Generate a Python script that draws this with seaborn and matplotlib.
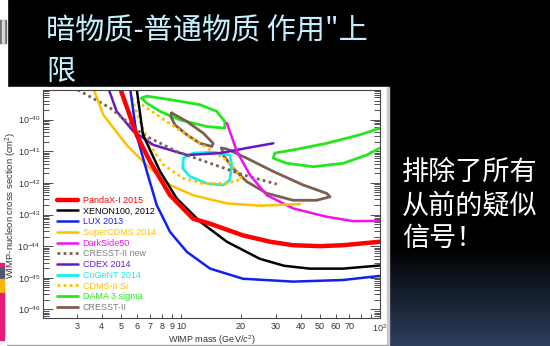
import numpy as np
import matplotlib
matplotlib.use("Agg")
import matplotlib.pyplot as plt
import seaborn as sns
from matplotlib.patches import Rectangle
from matplotlib.ticker import FixedLocator, FixedFormatter, LogLocator, NullFormatter

sns.set_theme(style="ticks")
plt.rcParams["font.family"] = ["Liberation Sans", "DejaVu Sans"]
plt.rcParams["mathtext.fontset"] = "custom"
plt.rcParams["mathtext.rm"] = "Liberation Sans"
plt.rcParams["mathtext.it"] = "Liberation Sans:italic"

# ---------------- data (WIMP mass in GeV/c^2, log10 of cross section in cm^2) ----------------
pandax_m = [4.94, 5.98, 6.98, 8.81, 11.5, 14.0, 20.5, 28.0, 36.5, 50.0, 65.2, 100]
pandax_lg = [-39.0, -40.48, -41.32, -42.39, -43.13, -43.29, -43.66, -43.86, -43.97, -44.0, -43.97, -43.86]

xenon_m = [5.98, 6.44, 7.84, 9.51, 12.45, 17.0, 24.9, 33.0, 44.4, 65.2, 100]
xenon_lg = [-39.0, -40.48, -41.63, -42.49, -43.22, -43.86, -44.40, -44.62, -44.71, -44.71, -44.61]

lux_m = [5.55, 5.98, 6.73, 7.55, 8.81, 10.7, 14.0, 20.5, 36.5, 65.2, 100]
lux_lg = [-39.0, -40.48, -41.63, -42.70, -43.55, -44.18, -44.71, -45.03, -45.12, -45.07, -44.94]

scdms_m = [3.62, 4.07, 5.33, 6.98, 8.81, 11.5, 17.0, 24.9, 39.6]
scdms_lg = [-39.0, -39.85, -40.80, -41.54, -42.07, -42.39, -42.65, -42.72, -42.67]

ds50_m = [17.0, 19.1, 22.2, 27.0, 36.7, 53.9, 73.4, 100]
ds50_lg = [-40.11, -41.01, -41.75, -42.39, -42.81, -43.07, -43.21, -43.20]

cresst_new_m = [3.03, 4.40, 6.47, 9.51, 14.0, 20.6, 30.3]
cresst_new_lg = [-39.06, -39.63, -40.48, -41.01, -41.38, -41.75, -42.04]

cdex_m = [4.31, 4.75, 5.76, 7.26, 10.7, 15.7, 21.4, 29.1]
cdex_lg = [-39.0, -39.74, -40.37, -40.80, -41.12, -41.06, -40.90, -40.75]

cogent_m = [10.27, 11.53, 14.53, 17.6, 17.98, 17.6, 16.3, 13.5, 11.1, 10.2, 10.27]
cogent_lg = [-41.22, -41.06, -41.03, -41.12, -41.43, -41.91, -42.07, -42.02, -41.80, -41.54, -41.22]

cdms_si_m = [5.65, 6.73, 8.47, 10.7, 13.5, 17.0, 19.1, 20.2, 17.0, 12.9, 10.3, 8.15, 6.98, 6.22, 5.65]
cdms_si_lg = [-39.32, -39.63, -40.06, -40.48, -40.90, -41.28, -41.64, -41.88, -42.02, -42.02,
              -41.86, -41.43, -40.80, -40.06, -39.32]

dama_low_m = [6.35, 6.73, 8.81, 12.45, 15.1, 16.6, 16.6, 13.5, 9.89, 7.84, 6.73, 6.35]
dama_low_lg = [-39.32, -39.26, -39.37, -39.53, -39.74, -40.06, -40.27, -40.22, -40.01, -39.74, -39.48, -39.32]

dama_high_m = [100, 79.3, 53.9, 36.6, 29.6, 29.1, 34.0, 46.2, 65.5, 85.7, 100]
dama_high_lg = [-40.27, -40.48, -40.75, -40.96, -41.06, -41.22, -41.38, -41.49, -41.38, -41.12, -40.90]

cresst_a_m = [8.98, 9.33, 10.7, 12.95, 14.5, 14.3, 12.45, 10.7, 9.33, 8.88, 8.98]
cresst_a_lg = [-39.79, -39.85, -40.06, -40.43, -40.75, -40.85, -40.75, -40.48, -40.17, -39.90, -39.79]

cresst_b_m = [16.0, 17.0, 21.4, 29.1, 41.2, 53.9, 56.1, 48.1, 36.6, 27.0, 21.4, 18.3, 16.3, 16.0]
cresst_b_lg = [-40.90, -40.93, -41.22, -41.64, -42.07, -42.33, -42.44, -42.55, -42.55, -42.33,
               -41.96, -41.54, -41.12, -40.90]

x_ticks = [3, 4, 5, 6, 7, 8, 9, 10, 20, 30, 40, 50, 60, 70, 80, 90, 100]
x_tick_labels = ["3", "4", "5", "6", "7", "8", "9", "10", "20", "30", "40", "50", "60", "70",
                 "", "", "$10^2$"]
y_ticks = [1e-46, 1e-45, 1e-44, 1e-43, 1e-42, 1e-41, 1e-40]
y_tick_labels = ["$10^{-46}$", "$10^{-45}$", "$10^{-44}$", "$10^{-43}$", "$10^{-42}$",
                 "$10^{-41}$", "$10^{-40}$"]

title_line1 = "暗物质-普通物质 作用\"上"
title_line2 = "限"
side_lines = ["排除了所有", "从前的疑似", "信号！"]

# ---------------- figure / slide background ----------------
W, H = 550, 346
fig = plt.figure(figsize=(W / 100, H / 100), dpi=100, facecolor="black")

def px_rect(x0, y0, x1, y1, **kw):
    fig.patches.append(Rectangle((x0 / W, 1 - y1 / H), (x1 - x0) / W, (y1 - y0) / H,
                                 transform=fig.transFigure, **kw))

px_rect(0, 0, 7, 346, color="white", zorder=0)
px_rect(0, 87, 388, 346, color="white", zorder=0)
px_rect(387, 87, 388.5, 346, color="#c8c8c8", zorder=0)
px_rect(7, 344.5, 388, 346, color="#a0a0a0", zorder=0)
px_rect(0, 20, 6, 43, color="#707070", zorder=0)
px_rect(2, 20, 3.5, 43, color="#d8d8d8", zorder=0)
px_rect(0, 263, 4, 268, color="#e8197a", zorder=0)
px_rect(0, 268, 4, 279, color="#4b5a72", zorder=0)
px_rect(0, 279, 4, 293, color="#ffb400", zorder=0)
px_rect(0, 293, 4, 340, color="#e8197a", zorder=0)

# gradient on the right lower part
gax = fig.add_axes([388.5 / W, 0, (W - 388.5) / W, (346 - 87) / H], zorder=0)
grad = np.zeros((100, 2, 3))
t = np.linspace(0, 1, 100)[:, None]
top_c = np.array([0, 0, 0])
bot_c = np.array([0x2d, 0x3e, 0x5c]) / 255
w = np.clip((t - 0.62) / 0.38, 0, 1)
grad[:] = (top_c * (1 - w) + bot_c * w)[:, None, :]
gax.imshow(grad, aspect="auto", extent=[0, 1, 0, 1], origin="upper")
gax.axis("off")

# ---------------- chart axes ----------------
AX_L, AX_R, AX_T, AX_B = 43, 380, 89.5, 318
ax = fig.add_axes([AX_L / W, 1 - AX_B / H, (AX_R - AX_L) / W, (AX_B - AX_T) / H], zorder=2)
ax.set_facecolor("white")

def draw(m, lg, color, lw, label="_nolegend_", ls="-"):
    sns.lineplot(x=m, y=10.0 ** np.array(lg), sort=False, estimator=None, color=color,
                 lw=lw, label=label, ax=ax, linestyle=ls, legend=False)

DOT = (0, (1, 1.2))
draw(dama_low_m, dama_low_lg, "#22e81c", 2.0, "DAMA 3 sigma")
draw(dama_high_m, dama_high_lg, "#22e81c", 2.0)
draw(cresst_a_m, cresst_a_lg, "#7d5f4f", 2.0, "CRESST-II")
draw(cresst_b_m, cresst_b_lg, "#7d5f4f", 2.0)
draw(cogent_m, cogent_lg, "#12f0f0", 2.0, "CoGeNT 2014")
draw(cdms_si_m, cdms_si_lg, "#ffc000", 2.0, "CDMS-II Si", DOT)
draw(cdex_m, cdex_lg, "#6418c8", 1.8, "CDEX 2014")
draw(cresst_new_m, cresst_new_lg, "#7d5f4f", 2.0, "CRESST-II new", DOT)
draw(ds50_m, ds50_lg, "#f010f0", 1.8, "DarkSide50")
draw(scdms_m, scdms_lg, "#ffc000", 1.8, "SuperCDMS 2014")
draw(lux_m, lux_lg, "#1020f0", 1.8, "LUX 2013")
draw(xenon_m, xenon_lg, "black", 1.8, "XENON100, 2012")
draw(pandax_m, pandax_lg, "#ff0000", 3.2, "PandaX-I 2015")

ax.set_xscale("log")
ax.set_yscale("log")
ax.set_xlim(2.026, 100)
ax.set_ylim(10 ** -46.27, 10 ** -39.05)

ax.xaxis.set_major_locator(FixedLocator(x_ticks))
ax.xaxis.set_major_formatter(FixedFormatter(x_tick_labels))
ax.xaxis.set_minor_locator(FixedLocator([]))
ax.yaxis.set_major_locator(FixedLocator(y_ticks))
ax.yaxis.set_major_formatter(FixedFormatter(y_tick_labels))
ax.yaxis.set_minor_locator(LogLocator(base=10, subs=np.arange(2, 10), numticks=40))
ax.yaxis.set_minor_formatter(NullFormatter())
ax.tick_params(axis="both", which="both", direction="in", colors="#333333", labelsize=6.5,
               width=0.6, pad=2)
ax.tick_params(axis="y", which="major", length=7, right=True)
ax.tick_params(axis="y", which="minor", length=4, right=True)
ax.tick_params(axis="x", which="major", length=3, pad=3)
for sp in ax.spines.values():
    sp.set_color("#444444")
    sp.set_linewidth(0.8)

ax.set_xlabel("WIMP mass (GeV/$c^2$)", fontsize=6.5, color="#333333", labelpad=-0.5)
ax.set_ylabel("WIMP-nucleon cross section (cm$^2$)", fontsize=6.8, color="#333333")
ax.yaxis.set_label_coords((19 - AX_L) / (AX_R - AX_L), (AX_B - 205) / (AX_B - AX_T))

# legend
handles, labels = ax.get_legend_handles_labels()
order = ["PandaX-I 2015", "XENON100, 2012", "LUX 2013", "SuperCDMS 2014", "DarkSide50",
         "CRESST-II new", "CDEX 2014", "CoGeNT 2014", "CDMS-II Si", "DAMA 3 sigma", "CRESST-II"]
hmap = dict(zip(labels, handles))
text_colors = ["#ff0000", "black", "#1020f0", "#ffc000", "#f010f0", "#808080", "#6418c8",
               "#12f0f0", "#ffc000", "#22e81c", "#7a7a7a"]
leg = ax.legend([hmap[l] for l in order], order, loc="lower left",
                bbox_to_anchor=((57 - AX_L) / (AX_R - AX_L), (AX_B - 312) / (AX_B - AX_T)),
                frameon=False, fontsize=6.5,
                handlelength=2.3, handletextpad=0.55, labelspacing=0.19, borderpad=0,
                borderaxespad=0)
for txt, c in zip(leg.get_texts(), text_colors):
    txt.set_color(c)

# ---------------- slide text ----------------
cjk = ["Noto Sans CJK SC", "DejaVu Sans"]
fig.text(46 / W, 1 - 31 / H, title_line1, family=cjk, fontsize=21, color="#c4efff", va="center",
         ha="left")
fig.text(46 / W, 1 - 72 / H, title_line2, family=cjk, fontsize=21, color="#c4efff", va="center",
         ha="left")
for line, yc in zip(side_lines, [172, 206, 238]):
    fig.text(402 / W, 1 - yc / H, line, family=cjk, fontsize=19.5, color="white", va="center",
             ha="left")

fig.savefig("out.png", dpi=100, facecolor="black")
